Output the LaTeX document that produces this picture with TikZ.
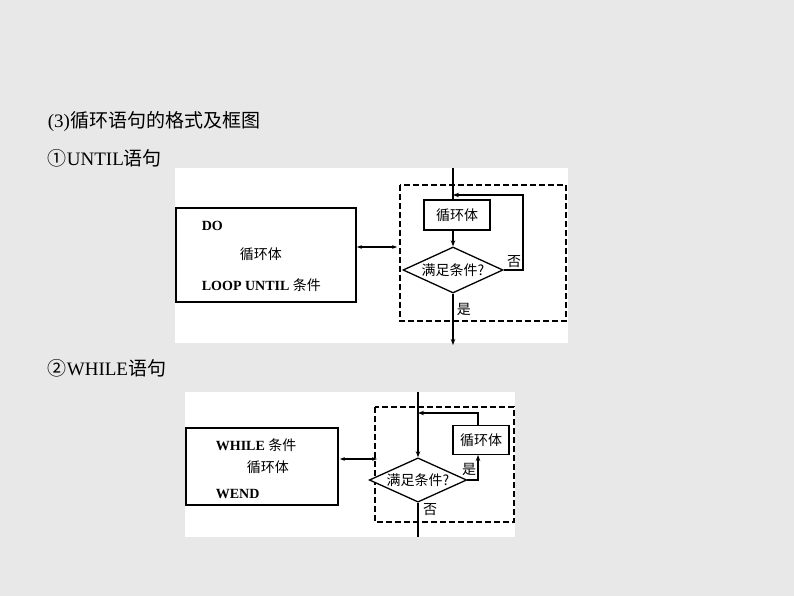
\documentclass[tikz,border=0pt]{standalone}
\usepackage{fontspec}
\setmainfont{Liberation Serif}
\newfontfamily\cjk{Noto Sans CJK SC}
\usetikzlibrary{positioning,shapes.geometric,arrows.meta}
\tikzset{
  box/.style={draw,line width=1.1pt,fill=white,minimum width=66pt,minimum height=30pt,font=\fontsize{14}{16}\selectfont},
  cond/.style={draw,line width=1.3pt,diamond,aspect=2.2,inner sep=1pt,fill=white,font=\fontsize{14}{16}\selectfont},
  flow/.style={line width=1.1pt,-{Stealth[length=6pt]}},
  frame/.style={dash pattern=on 6pt off 3pt},
  head/.style={anchor=west,font=\fontsize{19}{22}\selectfont},
  txt/.style={anchor=west,font=\fontsize{14}{16}\bfseries\selectfont},
  lab/.style={font=\cjk\fontsize{14}{16}\selectfont}
}
\begin{document}
\begin{tikzpicture}[x=1pt,y=-1pt,line width=1.1pt]
            \fill[gray!18] (0,0) rectangle (794,596);
            \useasboundingbox (0,0) rectangle (794,596);
            \node[head] (h0) at (44,122) {(3)\cjk 循环语句的格式及框图};
            \node[head] (h1) at (44,158) {{\cjk ①}UNTIL\cjk 语句};
            \node[head] (h2) at (44,368) {{\cjk ②}WHILE\cjk 语句};
            % UNTIL
            \fill[white] (175,168) rectangle (568,343);
            \draw (176,208) rectangle (356,302);
            \node[txt] (do) at (198,226) {DO};
            \node[txt] (b1) at (236,254) {\mdseries\cjk 循环体};
            \node[txt] (lu) at (198,285) {LOOP UNTIL {\mdseries\cjk 条件}};
            \draw[frame] (400,185) rectangle (566,321);
            \draw[{Stealth[length=5pt]}-{Stealth[length=5pt]}] (357,247) -- (397,247);
            \coordinate (in1) at (453,168);
            \node[box] (body1) at (457,215) {\cjk 循环体};
            \node[cond,minimum width=100pt,minimum height=46pt] (c1) at (453,270) {\cjk 满足条件?};
            \coordinate (out1) at (453,345);
            \draw (in1) -- (453,200);
            \draw[flow] (body1.south -| c1.north) -- (c1.north);
            \draw[flow] (c1.east) -- (523,270) -- (523,195) -- (453,195);
            \node[lab] (no1) at (514,262) {否};
            \draw[flow] (c1.south) -- (out1) node[pos=0.3,right,lab] {是};
            % WHILE
            \fill[white] (185,392) rectangle (515,537);
            \draw (186,428) rectangle (338,505);
            \node[txt] (wh) at (212,445) {WHILE {\mdseries\cjk 条件}};
            \node[txt] (b2) at (243,467) {\mdseries\cjk 循环体};
            \node[txt] (we) at (212,494) {WEND};
            \draw[frame] (375,407) rectangle (514,522);
            \draw[{Stealth[length=5pt]}-{Stealth[length=5pt]}] (340,459) -- (377,459);
            \coordinate (in2) at (418,392);
            \node[cond,minimum width=84pt,minimum height=40pt] (c2) at (418,480) {\cjk 满足条件?};
            \node[box,minimum width=56pt,minimum height=29pt] (body2) at (481,440) {\cjk 循环体};
            \coordinate (out2) at (418,537);
            \draw[flow] (in2) -- (c2.north);
            \draw[flow] (c2.east) -- (478,480) -- (478,455);
            \node[lab] (yes2) at (469,469) {是};
            \draw[flow] (478,426) -- (478,413) -- (418,413);
            \draw (c2.south) -- (out2);
            \node[lab] (no2) at (430,510) {否};
\end{tikzpicture}
\end{document}
